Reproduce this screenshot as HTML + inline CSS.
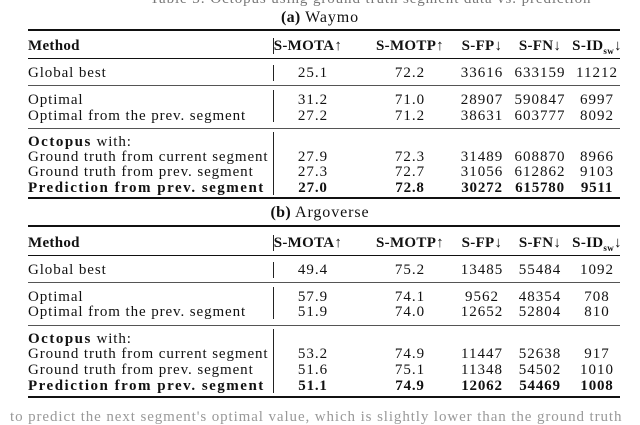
<!DOCTYPE html><html><head><meta charset="utf-8"><style>
body{margin:0;width:640px;height:417px;background:#fff;overflow:hidden;position:relative;font-family:"Liberation Serif",serif;color:#111;font-size:15px;letter-spacing:0.9px}
div{position:absolute;white-space:nowrap;line-height:16px}
.l{left:28px}.c{width:100px;text-align:center;letter-spacing:1px}
.a{left:263px}.b{left:360px}.d{left:432px}.e{left:490px}.f{left:547px}
.r{left:28px;width:592px;background:#111;height:1px}.t{height:2px}
b{font-weight:bold;letter-spacing:0.8px}
.l b{letter-spacing:1.5px}
.h b{letter-spacing:0.3px}
.v{left:273px;width:1px;background:#222}
</style></head><body>
<div style="left:150px;top:-9px;color:#777">Table 3: Octopus using ground truth segment data vs. prediction</div>
<div class="h" style="left:0;width:640px;text-align:center;top:10px;font-size:16px"><b>(a)</b> Waymo</div>
<div class="r t" style="top:29px"></div>
<div class="l h" style="top:38px"><b>Method</b></div>
<div class="v" style="top:38px;height:16px"></div>
<div class="c a h" style="top:38px;left:258px"><b>S-MOTA↑</b></div><div class="c b h" style="top:38px"><b>S-MOTP↑</b></div><div class="c d h" style="top:38px"><b>S-FP↓</b></div><div class="c e h" style="top:38px"><b>S-FN↓</b></div><div class="c f h" style="top:38px"><b>S-ID<sub style="font-size:9px">sw</sub>↓</b></div>
<div class="r" style="top:58px"></div>
<div class="l" style="top:65px">Global best</div><div class="v" style="top:65px;height:16px"></div>
<div class="c a" style="top:65px">25.1</div><div class="c b" style="top:65px">72.2</div><div class="c d" style="top:65px">33616</div><div class="c e" style="top:65px">633159</div><div class="c f" style="top:65px">11212</div>
<div class="r" style="top:85px;height:1px;background:#555"></div>
<div class="v" style="top:90px;height:32px"></div>
<div class="l" style="top:92px">Optimal</div>
<div class="c a" style="top:92px">31.2</div><div class="c b" style="top:92px">71.0</div><div class="c d" style="top:92px">28907</div><div class="c e" style="top:92px">590847</div><div class="c f" style="top:92px">6997</div>
<div class="l" style="top:108px">Optimal from the prev. segment</div>
<div class="c a" style="top:108px">27.2</div><div class="c b" style="top:108px">71.2</div><div class="c d" style="top:108px">38631</div><div class="c e" style="top:108px">603777</div><div class="c f" style="top:108px">8092</div>
<div class="r" style="top:128px;background:#555"></div>
<div class="v" style="top:132px;height:63px"></div>
<div class="l" style="top:134px"><b>Octopus</b> with:</div>
<div class="l" style="top:149px">Ground truth from current segment</div>
<div class="c a" style="top:149px">27.9</div><div class="c b" style="top:149px">72.3</div><div class="c d" style="top:149px">31489</div><div class="c e" style="top:149px">608870</div><div class="c f" style="top:149px">8966</div>
<div class="l" style="top:164px">Ground truth from prev. segment</div>
<div class="c a" style="top:164px">27.3</div><div class="c b" style="top:164px">72.7</div><div class="c d" style="top:164px">31056</div><div class="c e" style="top:164px">612862</div><div class="c f" style="top:164px">9103</div>
<div class="l" style="top:180px"><b>Prediction from prev. segment</b></div>
<div class="c a" style="top:180px"><b>27.0</b></div><div class="c b" style="top:180px"><b>72.8</b></div><div class="c d" style="top:180px"><b>30272</b></div><div class="c e" style="top:180px"><b>615780</b></div><div class="c f" style="top:180px"><b>9511</b></div>
<div class="r t" style="top:197px"></div>
<div class="h" style="left:0;width:640px;text-align:center;top:205px;font-size:16px"><b>(b)</b> Argoverse</div>
<div class="r t" style="top:225px"></div>
<div class="l h" style="top:235px"><b>Method</b></div>
<div class="v" style="top:235px;height:16px"></div>
<div class="c a h" style="top:235px;left:258px"><b>S-MOTA↑</b></div><div class="c b h" style="top:235px"><b>S-MOTP↑</b></div><div class="c d h" style="top:235px"><b>S-FP↓</b></div><div class="c e h" style="top:235px"><b>S-FN↓</b></div><div class="c f h" style="top:235px"><b>S-ID<sub style="font-size:9px">sw</sub>↓</b></div>
<div class="r" style="top:255px"></div>
<div class="l" style="top:262px">Global best</div><div class="v" style="top:262px;height:16px"></div>
<div class="c a" style="top:262px">49.4</div><div class="c b" style="top:262px">75.2</div><div class="c d" style="top:262px">13485</div><div class="c e" style="top:262px">55484</div><div class="c f" style="top:262px">1092</div>
<div class="r" style="top:282px;background:#555"></div>
<div class="v" style="top:287px;height:32px"></div>
<div class="l" style="top:289px">Optimal</div>
<div class="c a" style="top:289px">57.9</div><div class="c b" style="top:289px">74.1</div><div class="c d" style="top:289px">9562</div><div class="c e" style="top:289px">48354</div><div class="c f" style="top:289px">708</div>
<div class="l" style="top:304px">Optimal from the prev. segment</div>
<div class="c a" style="top:304px">51.9</div><div class="c b" style="top:304px">74.0</div><div class="c d" style="top:304px">12652</div><div class="c e" style="top:304px">52804</div><div class="c f" style="top:304px">810</div>
<div class="r" style="top:325px;background:#555"></div>
<div class="v" style="top:329px;height:64px"></div>
<div class="l" style="top:331px"><b>Octopus</b> with:</div>
<div class="l" style="top:346px">Ground truth from current segment</div>
<div class="c a" style="top:346px">53.2</div><div class="c b" style="top:346px">74.9</div><div class="c d" style="top:346px">11447</div><div class="c e" style="top:346px">52638</div><div class="c f" style="top:346px">917</div>
<div class="l" style="top:362px">Ground truth from prev. segment</div>
<div class="c a" style="top:362px">51.6</div><div class="c b" style="top:362px">75.1</div><div class="c d" style="top:362px">11348</div><div class="c e" style="top:362px">54502</div><div class="c f" style="top:362px">1010</div>
<div class="l" style="top:378px"><b>Prediction from prev. segment</b></div>
<div class="c a" style="top:378px"><b>51.1</b></div><div class="c b" style="top:378px"><b>74.9</b></div><div class="c d" style="top:378px"><b>12062</b></div><div class="c e" style="top:378px"><b>54469</b></div><div class="c f" style="top:378px"><b>1008</b></div>
<div class="r t" style="top:396px"></div>
<div style="left:10px;top:409px;color:#999">to predict the next segment's optimal value, which is slightly lower than the ground truth</div>
</body></html>
